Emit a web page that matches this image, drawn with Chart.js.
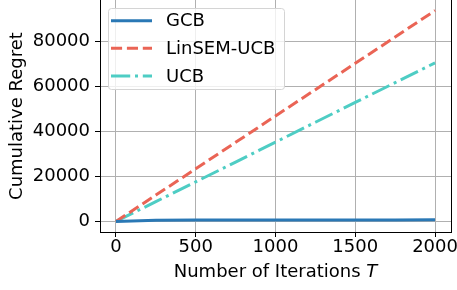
<!DOCTYPE html>
<html>
<head>
<meta charset="utf-8">
<script src="https://cdn.jsdelivr.net/npm/chart.js@4/dist/chart.umd.min.js"></script>
<style>
  html, body { margin: 0; padding: 0; background: #fff; }
  #wrap { width: 457px; height: 290px; }
</style>
</head>
<body>
<div id="wrap"><canvas id="regretChart" width="457" height="290"></canvas></div>
<script>
// --- data ---
const ITERATIONS = [0, 250, 500, 750, 1000, 1250, 1500, 1750, 2000];
const GCB_REGRET = [0, 560, 600, 630, 650, 670, 680, 690, 700];
const LINSEM_REGRET = [0, 11700, 23400, 35150, 46900, 58600, 70300, 82000, 93750];
const UCB_REGRET = [0, 8800, 17600, 26400, 35250, 44100, 52900, 61700, 70500];

const SERIES_NAMES = ["GCB", "LinSEM-UCB", "UCB"];
const X_TICKS = [0, 500, 1000, 1500, 2000];
const Y_TICKS = [0, 20000, 40000, 60000, 80000];

const COLORS = {
  GCB: "#2a78b5",
  LINSEM: "#ea6455",
  UCB: "#4ecdc4",
  GRID: "#b0b0b0",
};
const FONT = "DejaVu Sans";

function toPoints(xs, ys) {
  return xs.map((x, i) => ({ x: x, y: ys[i] }));
}

function makeDataset(label, values, color, dash) {
  return {
    label: label,
    data: toPoints(ITERATIONS, values),
    borderColor: color,
    backgroundColor: color,
    borderWidth: 3,
    borderDash: dash,
    borderCapStyle: "butt",
    pointRadius: 0,
    tension: 0,
    fill: false,
  };
}

// legend box + axis titles + right spine, drawn the matplotlib way
const decorPlugin = {
  id: "decor",
  afterDraw(chart) {
    const ctx = chart.ctx;
    const area = chart.chartArea;
    ctx.save();

    // right spine
    ctx.strokeStyle = "#000";
    ctx.lineWidth = 1;
    ctx.beginPath();
    ctx.moveTo(Math.round(area.right) + 0.5, area.top);
    ctx.lineTo(Math.round(area.right) + 0.5, area.bottom + 0.5);
    ctx.stroke();

    // legend frame
    const bx = 108.5, by = 8.5, bw = 176, bh = 81, r = 3;
    ctx.beginPath();
    ctx.moveTo(bx + r, by);
    ctx.arcTo(bx + bw, by, bx + bw, by + bh, r);
    ctx.arcTo(bx + bw, by + bh, bx, by + bh, r);
    ctx.arcTo(bx, by + bh, bx, by, r);
    ctx.arcTo(bx, by, bx + bw, by, r);
    ctx.closePath();
    ctx.fillStyle = "rgba(255,255,255,0.8)";
    ctx.fill();
    ctx.strokeStyle = "#d4d4d4";
    ctx.stroke();

    const rowsY = [20.7, 48.3, 76];
    ctx.font = "18px '" + FONT + "'";
    ctx.textBaseline = "middle";
    ctx.textAlign = "left";
    chart.data.datasets.forEach((ds, i) => {
      const y = rowsY[i];
      ctx.strokeStyle = ds.borderColor;
      ctx.lineWidth = ds.borderWidth;
      ctx.lineCap = "butt";
      ctx.setLineDash(ds.borderDash || []);
      ctx.beginPath();
      ctx.moveTo(111, y);
      ctx.lineTo(152, y);
      ctx.stroke();
      ctx.setLineDash([]);
      ctx.fillStyle = "#000";
      ctx.fillText(ds.label, 166, y + 1);
    });

    // x axis title with italic T
    ctx.textBaseline = "alphabetic";
    ctx.fillStyle = "#000";
    const plain = "Number of Iterations ";
    ctx.font = "18px '" + FONT + "'";
    const wPlain = ctx.measureText(plain).width;
    ctx.font = "italic 18px '" + FONT + "'";
    const wT = ctx.measureText("T").width;
    const startX = (area.left + area.right) / 2 - (wPlain + wT) / 2;
    ctx.font = "18px '" + FONT + "'";
    ctx.fillText(plain, startX, 277);
    ctx.font = "italic 18px '" + FONT + "'";
    ctx.fillText("T", startX + wPlain, 277);

    // y axis title
    ctx.font = "18px '" + FONT + "'";
    ctx.translate(21.5, (area.top + area.bottom) / 2);
    ctx.rotate(-Math.PI / 2);
    ctx.textAlign = "center";
    ctx.fillText("Cumulative Regret", 0, 0);

    ctx.restore();
  },
};

function plainNumber(value) {
  return String(value);
}

function init() {
  const ctx = document.getElementById("regretChart").getContext("2d");
  new Chart(ctx, {
    type: "line",
    data: {
      datasets: [
        makeDataset(SERIES_NAMES[0], GCB_REGRET, COLORS.GCB, []),
        makeDataset(SERIES_NAMES[1], LINSEM_REGRET, COLORS.LINSEM, [11.1, 4.8]),
        makeDataset(SERIES_NAMES[2], UCB_REGRET, COLORS.UCB, [19.2, 4.8, 3, 4.8]),
      ],
    },
    options: {
      responsive: false,
      animation: false,
      devicePixelRatio: 1,
      layout: { padding: { left: 0, right: 6, top: 0, bottom: 0 } },
      plugins: {
        legend: { display: false },
        tooltip: { enabled: false },
      },
      scales: {
        x: {
          type: "linear",
          min: -100,
          max: 2100,
          afterBuildTicks: (scale) => {
            scale.ticks = X_TICKS.map((v) => ({ value: v }));
          },
          afterFit: (scale) => {
            scale.height = 58;
            scale.paddingLeft = 0;
            scale.paddingRight = 0;
          },
          grid: {
            color: COLORS.GRID,
            lineWidth: 1,
            tickColor: "#000",
            tickLength: 5,
          },
          border: { color: "#000", width: 1 },
          ticks: {
            color: "#000",
            font: { family: FONT, size: 18 },
            padding: 0,
            maxRotation: 0,
            autoSkip: false,
            callback: plainNumber,
          },
        },
        y: {
          type: "linear",
          min: -4700,
          max: 98450,
          afterBuildTicks: (scale) => {
            scale.ticks = Y_TICKS.map((v) => ({ value: v }));
          },
          afterFit: (scale) => {
            scale.width = 100;
            scale.paddingTop = 0;
            scale.paddingBottom = 0;
          },
          grid: {
            color: COLORS.GRID,
            lineWidth: 1,
            tickColor: "#000",
            tickLength: 5,
          },
          border: { color: "#000", width: 1 },
          ticks: {
            color: "#000",
            font: { family: FONT, size: 18 },
            padding: 5,
            autoSkip: false,
            callback: plainNumber,
          },
        },
      },
    },
    plugins: [decorPlugin],
  });
}

document.addEventListener("DOMContentLoaded", init);
</script>
</body>
</html>
